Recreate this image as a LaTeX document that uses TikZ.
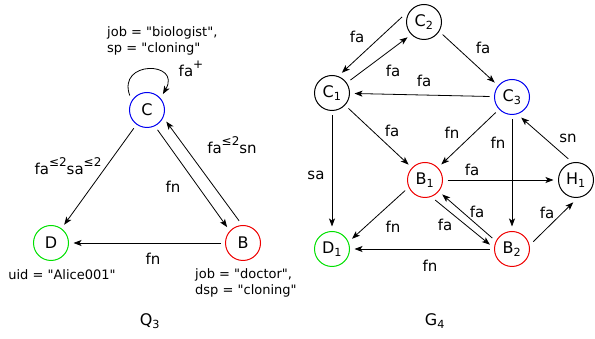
\documentclass[tikz,border=0pt]{standalone}
\usepackage{fontspec}
\setmainfont{DejaVu Sans}
\usetikzlibrary{arrows.meta}
\definecolor{QBlue}{HTML}{0000F0}
\definecolor{QRed}{HTML}{EE0000}
\definecolor{QGreen}{HTML}{00E000}
\newcommand{\qt}{\textquotedbl}
\newcommand{\upidx}[1]{\raisebox{0.5em}{\fontsize{12}{14}\selectfont #1}}
\tikzset{
  vertex/.style={
    circle, draw=black, line width=1pt, minimum size=35pt,
    inner sep=0pt, outer sep=5pt, font=\fontsize{16}{19}\selectfont
  },
  edgelbl/.style={font=\fontsize{15}{18}\selectfont, inner sep=1pt},
  attr/.style={align=left, font=\fontsize{13}{16.5}\selectfont, inner sep=0pt},
  title/.style={font=\fontsize{16}{19}\selectfont},
  link/.style={-{Stealth[length=8pt,width=6pt,inset=2pt]}, line width=0.8pt}
}

\begin{document}
\begin{tikzpicture}[x=1pt,y=1pt]
  \useasboundingbox (0,0) rectangle (595,339);

  % Q3
  \node[vertex,draw=QBlue] (C) at (147,229) {C};
  \node[vertex,draw=QGreen] (D) at (51,96) {D};
  \node[vertex,draw=QRed] (B) at (243,96) {B};

  \node[attr,anchor=west] (Cattr) at (107,298) {job = \qt biologist\qt,\\sp = \qt cloning\qt};
  \node[attr] (Dattr) at (62,64) {uid = \qt Alice001\qt};
  \node[attr,anchor=west] (Battr) at (195,56) {job = \qt doctor\qt,\\dsp = \qt cloning\qt};

  \draw[link] (C.140) .. controls +(110:38) and +(60:38) .. (C.45);
  \draw[link] (C) -- (D);
  \draw[link] (C.-62) -- (B.135);
  \draw[link] (B.100) -- (C.-31);
  \draw[link] (B) -- (D);

  \node[edgelbl] (lloop) at (191,270) {fa\upidx{+}};
  \node[edgelbl] (lcd) at (68,173) {fa\upidx{≤2}sa\upidx{≤2}};
  \node[edgelbl] (lcb) at (173,152) {fn};
  \node[edgelbl] (lbc) at (232,194) {fa\upidx{≤2}sn};
  \node[edgelbl] (lbd) at (153,80) {fn};

  \node[title] (q3) at (150,18) {Q\textsubscript{3}};

  % G4
  \node[vertex] (C2) at (424,317) {C\textsubscript{2}};
  \node[vertex] (C1) at (332,246) {C\textsubscript{1}};
  \node[vertex,draw=QBlue] (C3) at (512,242) {C\textsubscript{3}};
  \node[vertex,draw=QRed] (B1) at (425,159) {B\textsubscript{1}};
  \node[vertex] (H1) at (576,159) {H\textsubscript{1}};
  \node[vertex,draw=QGreen] (D1) at (332,90) {D\textsubscript{1}};
  \node[vertex,draw=QRed] (B2) at (512,90) {B\textsubscript{2}};

  \draw[link] (C2.167) -- (C1.64);
  \draw[link] (C1.35) -- (C2.223);
  \draw[link] (C2.-34) -- (C3.140);
  \draw[link] (C3) -- (C1);
  \draw[link] (C1) -- (B1);
  \draw[link] (C3) -- (B1);
  \draw[link] (C3) -- (B2);
  \draw[link] (H1.110) -- (C3.-66);
  \draw[link] (C1) -- (D1);
  \draw[link] (B1) -- (H1);
  \draw[link] (B1.-152) -- (D1.27);
  \draw[link] (B1.-63) -- (B2.169);
  \draw[link] (B2.151) -- (B1.-40);
  \draw[link] (B2.19) -- (H1.-97);
  \draw[link] (B2) -- (D1);

  \node[edgelbl] (l1) at (357,302) {fa};
  \node[edgelbl] (l2) at (393,268) {fa};
  \node[edgelbl] (l3) at (483,291) {fa};
  \node[edgelbl] (l4) at (424,258) {fa};
  \node[edgelbl] (l5) at (392,208) {fa};
  \node[edgelbl] (l6) at (452,206) {fn};
  \node[edgelbl] (l7) at (498,196) {fn};
  \node[edgelbl] (l8) at (568,201) {sn};
  \node[edgelbl] (l9) at (316,164) {sa};
  \node[edgelbl] (l10) at (472,169) {fa};
  \node[edgelbl] (l11) at (393,112) {fn};
  \node[edgelbl] (l12) at (445,114) {fa};
  \node[edgelbl] (l13) at (477,127) {fa};
  \node[edgelbl] (l14) at (547,126) {fa};
  \node[edgelbl] (l15) at (430,73) {fn};

  \node[title] (g4) at (435,18) {G\textsubscript{4}};
\end{tikzpicture}
\end{document}
